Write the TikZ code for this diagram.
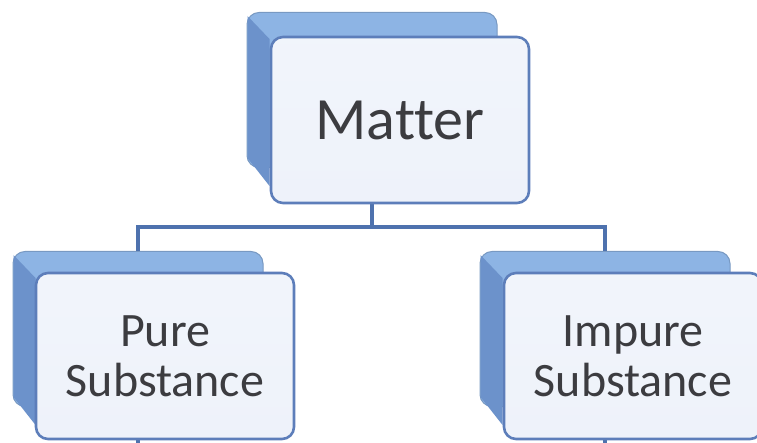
\documentclass[tikz,border=0pt]{standalone}
\usepackage{fontspec}
\setmainfont{Carlito}[Ligatures=NoCommon]
\definecolor{boxline}{RGB}{93,126,186}
\definecolor{boxfill}{RGB}{238,242,250}
\definecolor{backtop}{RGB}{141,180,228}
\definecolor{backside}{RGB}{108,146,203}
\definecolor{linkcol}{RGB}{78,114,174}
\definecolor{textcol}{RGB}{60,60,64}
\tikzset{
  backbox/.style={rectangle, rounded corners=12pt, fill=backtop, draw=backtop!85!black,
    line width=1pt, minimum width=250pt, minimum height=155pt, inner sep=0pt},
  frontbox/.style={rectangle, rounded corners=12pt, draw=boxline, line width=2.6pt,
    top color=boxfill!80!white, bottom color=boxfill, text=textcol, align=center,
    minimum width=258pt, minimum height=166pt, inner sep=0pt},
  bigtext/.style={font=\fontsize{60}{61}\selectfont},
  smalltext/.style={font=\fontsize{48}{50}\selectfont},
  link/.style={draw=linkcol, line width=4pt}
}
\begin{document}
\begin{tikzpicture}[x=1pt, y=-1pt]

    % page frame
    \useasboundingbox (0,0) rectangle (757,443);

    % Back panels of the three boxes
    \node[backbox] (matterbk) at (372,90) {};
    \node[backbox] (purebk)   at (138,329) {};
    \node[backbox] (impurebk) at (605,329) {};

    % Darker left side of each back panel
    \foreach \n in {matterbk,purebk,impurebk} {
      \fill[backside] ([xshift=1pt,yshift=-4pt]\n.north west) -- ([xshift=23pt,yshift=-27pt]\n.north west)
        -- ([xshift=23pt,yshift=-18pt]\n.south west) -- ([xshift=1pt,yshift=10pt]\n.south west) -- cycle;
    }

    % Tree lines
    \coordinate (bus) at (372,227);
    \draw[link] (matterbk.south) -- (bus) -| (purebk.north);
    \draw[link] (bus) -| (impurebk.north);
    \draw[link] (purebk.south) -- ++(0,40);
    \draw[link] (impurebk.south) -- ++(0,40);

    % Front faces
    \node[frontbox, bigtext] (matter) at (400,120) {Matter};
    \node[frontbox, smalltext] (pure)   at (165,356) {Pure\\Substance};
    \node[frontbox, smalltext] (impure) at (633,356) {Impure\\Substance};
\end{tikzpicture}
\end{document}
